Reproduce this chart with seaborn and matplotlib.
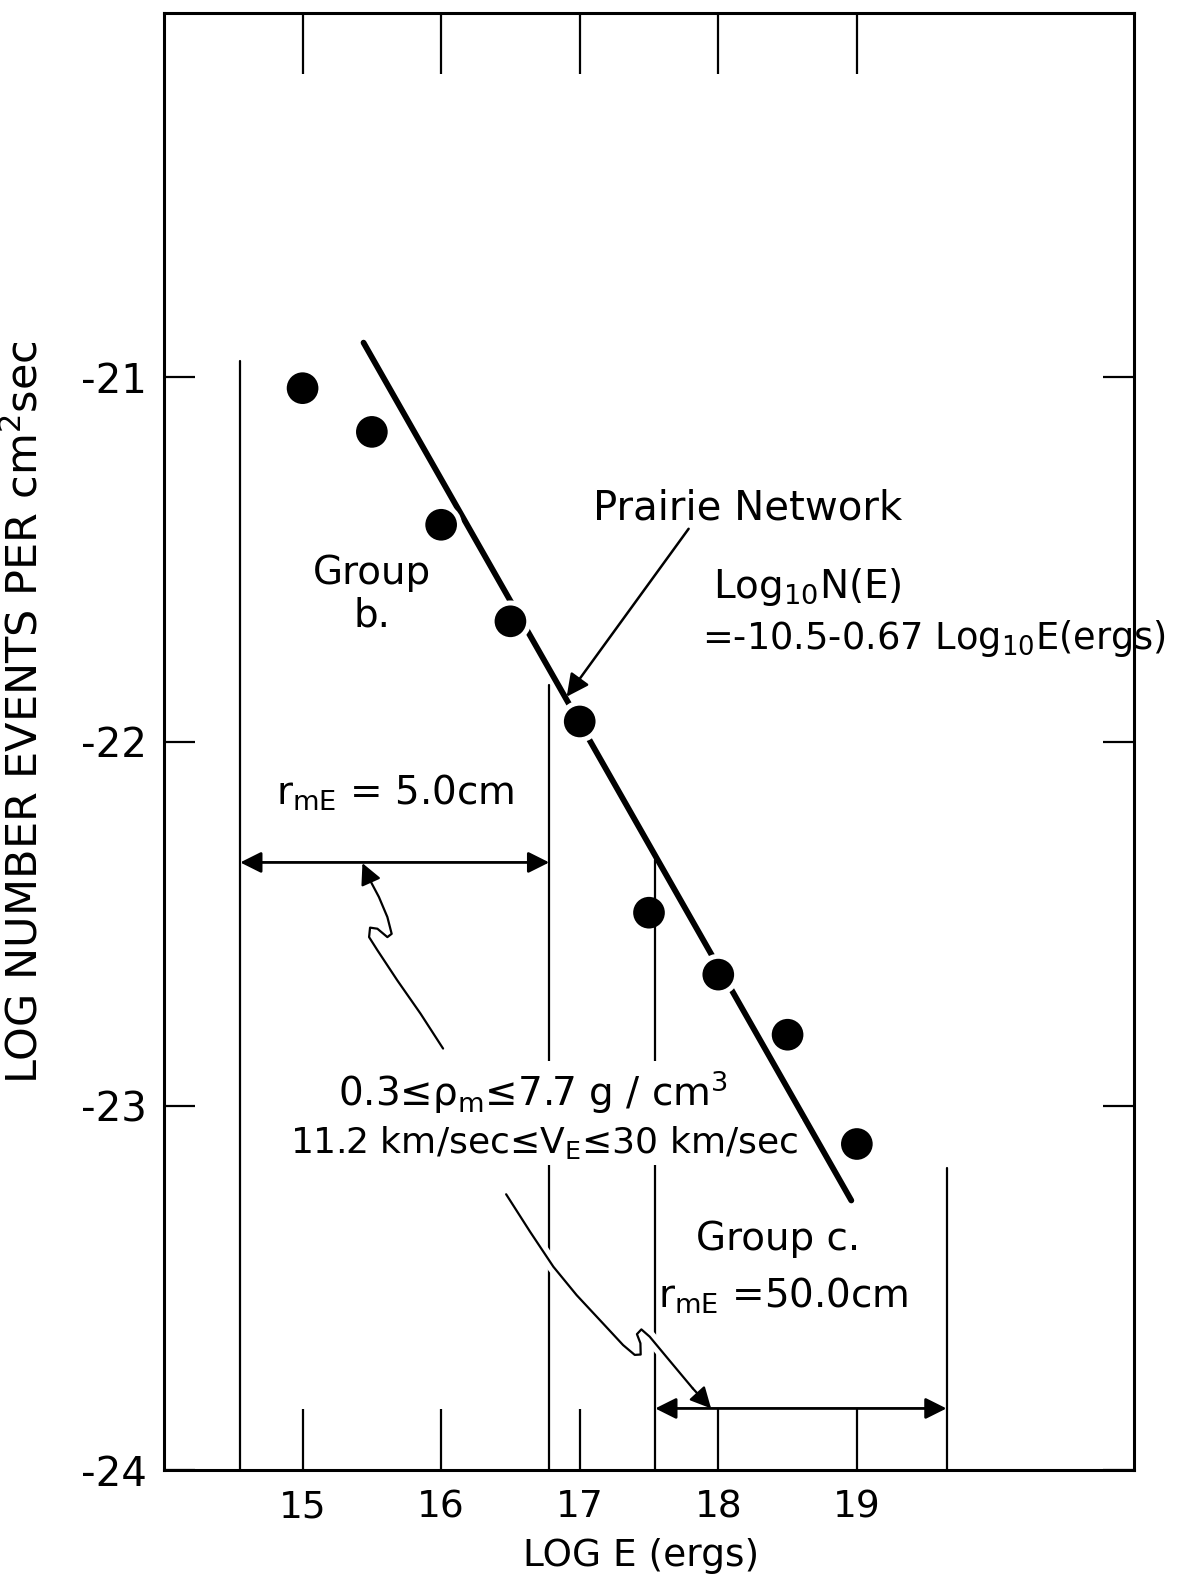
import matplotlib
matplotlib.use("Agg")
import matplotlib.pyplot as plt
import matplotlib.patheffects as pe
import seaborn as sns
import numpy as np

# ---------------- data ----------------
log_E = [15.0, 15.5, 16.0, 16.5, 17.0, 17.5, 18.0, 18.5, 19.0]
log_N = [-21.03, -21.15, -21.405, -21.67, -21.945, -22.47, -22.64, -22.805, -23.105]

fit_x = [15.44, 18.96]
fit_y = [-20.905, -23.26]

x_ticks = [15, 16, 17, 18, 19]
x_tick_labels = ["15", "16", "17", "18", "19"]
y_ticks = [-21, -22, -23, -24]
y_tick_labels = ["-21", "-22", "-23", "-24"]

# group boundary lines: x, top y
bound_x = [14.55, 16.78, 17.545, 19.647]
bound_top = [-20.955, -21.846, -22.326, -23.172]

# range arrows (x0, x1, y)
range_b = (14.55, 16.78, -22.332)
range_c = (17.545, 19.647, -23.831)

# hand drawn pointer curves
curve1_x = [16.014, 15.851, 15.684, 15.540, 15.480, 15.487, 15.540, 15.612, 15.643, 15.612, 15.551, 15.487]
curve1_y = [-22.843, -22.747, -22.656, -22.573, -22.537, -22.511, -22.514, -22.537, -22.528, -22.482, -22.427, -22.381]
curve1_tip = (15.432, -22.334)

curve2_x = [16.469, 16.642, 16.810, 16.978, 17.169, 17.313, 17.397, 17.440, 17.438, 17.413, 17.445, 17.505, 17.625, 17.816]
curve2_y = [-23.243, -23.346, -23.442, -23.520, -23.598, -23.657, -23.684, -23.683, -23.652, -23.627, -23.614, -23.634, -23.689, -23.776]
curve2_tip = (17.948, -23.831)

prairie_from = (17.786, -21.416)
prairie_to = (16.906, -21.877)

# ---------------- style ----------------
sns.set_theme(style="white")
plt.rcParams["font.family"] = ["DejaVu Sans"]
plt.rcParams["mathtext.default"] = "regular"
plt.rcParams["axes.unicode_minus"] = False
plt.rcParams["text.color"] = "black"
plt.rcParams["axes.labelcolor"] = "black"
plt.rcParams["xtick.color"] = "black"
plt.rcParams["ytick.color"] = "black"

fig = plt.figure(figsize=(11.9, 15.86), dpi=100)
ax = fig.add_axes([164 / 1190, 1 - 1470 / 1586, 970 / 1190, 1457 / 1586])
ax.set_xlim(14, 21)
ax.set_ylim(-24, -20)

for s in ax.spines.values():
    s.set_linewidth(2.2)
    s.set_color("black")
    s.set_visible(True)

# fit line
sns.lineplot(x=fit_x, y=fit_y, ax=ax, color="black", linewidth=4.2, zorder=2)

# white halo around points (cuts fit line)
sns.scatterplot(x=log_E, y=log_N, ax=ax, s=900, color="white", edgecolor="none", zorder=3, legend=False)

# boundary lines
for bx, bt in zip(bound_x, bound_top):
    ax.plot([bx, bx], [-24, bt], color="black", lw=1.6, zorder=4)

# range arrows
for (x0, x1, yy) in (range_b, range_c):
    ax.annotate("", xy=(x0, yy), xytext=(x1, yy),
                arrowprops=dict(arrowstyle="<|-|>", color="black", lw=2.0,
                                mutation_scale=32, shrinkA=0, shrinkB=0),
                zorder=4)

# data points
sns.scatterplot(x=log_E, y=log_N, ax=ax, s=520, color="black", edgecolor="none", zorder=5, legend=False)

# curves with white halo
halo = [pe.withStroke(linewidth=9, foreground="white")]
for cx, cy, tip in ((curve1_x, curve1_y, curve1_tip), (curve2_x, curve2_y, curve2_tip)):
    ax.plot(cx, cy, color="black", lw=1.6, zorder=4.5, path_effects=halo,
            solid_capstyle="round", solid_joinstyle="round")
    ax.annotate("", xy=tip, xytext=(cx[-1], cy[-1]),
                arrowprops=dict(arrowstyle="-|>", color="black", lw=1.6,
                                mutation_scale=32, shrinkA=0, shrinkB=0),
                zorder=4.6)

# Prairie network arrow
ax.annotate("", xy=prairie_to, xytext=prairie_from,
            arrowprops=dict(arrowstyle="-|>", color="black", lw=1.8,
                            mutation_scale=34, shrinkA=0, shrinkB=0),
            zorder=4)

# ---------------- texts ----------------
fs = 28
ax.text(15.50, -21.595, "Group\nb.", ha="center", va="center", fontsize=fs, linespacing=1.15)
ax.text(15.67, -22.14, "r$_{mE}$ = 5.0cm", ha="center", va="center", fontsize=fs)
ax.text(18.21, -21.36, "Prairie Network", ha="center", va="center", fontsize=29)
ax.text(17.96, -21.605, "Log$_{10}$N(E)", ha="left", va="baseline", fontsize=fs)
ax.text(17.88, -21.745, "=-10.5-0.67 Log$_{10}$E(ergs)", ha="left", va="baseline", fontsize=26.5)
ax.text(16.66, -22.964, "0.3≤ρ$_m$≤7.7 g / cm$^3$",
        ha="center", va="center", fontsize=fs,
        bbox=dict(facecolor="white", edgecolor="none", pad=6), zorder=6)
ax.text(16.74, -23.10, "11.2 km/sec≤V$_E$≤30 km/sec",
        ha="center", va="center", fontsize=26,
        bbox=dict(facecolor="white", edgecolor="none", pad=3), zorder=6)
ax.text(18.43, -23.366, "Group c.", ha="center", va="center", fontsize=fs)
ax.text(18.47, -23.555, "r$_{mE}$ =50.0cm", ha="center", va="baseline", fontsize=fs)

# ---------------- axes ticks / labels ----------------
ax.set_xticks(x_ticks)
ax.set_xticklabels(x_tick_labels, fontsize=27)
ax.set_yticks(y_ticks)
ax.set_yticklabels(y_tick_labels, fontsize=29)
ax.tick_params(axis="x", direction="in", top=True, bottom=True, length=44, width=1.6,
               pad=14, colors="black")
ax.tick_params(axis="y", direction="in", left=True, right=True, length=22, width=1.6,
               pad=12, colors="black")
ax.grid(False)

ax.set_xlabel("LOG E (ergs)", fontsize=27, color="black")
ax.xaxis.set_label_coords(0.492, -0.047)
ax.set_ylabel("LOG NUMBER EVENTS PER cm$^2$sec", fontsize=31, color="black")
ax.yaxis.set_label_coords(-0.121, 0.52)

fig.savefig("out.png", dpi=100, facecolor="white")
